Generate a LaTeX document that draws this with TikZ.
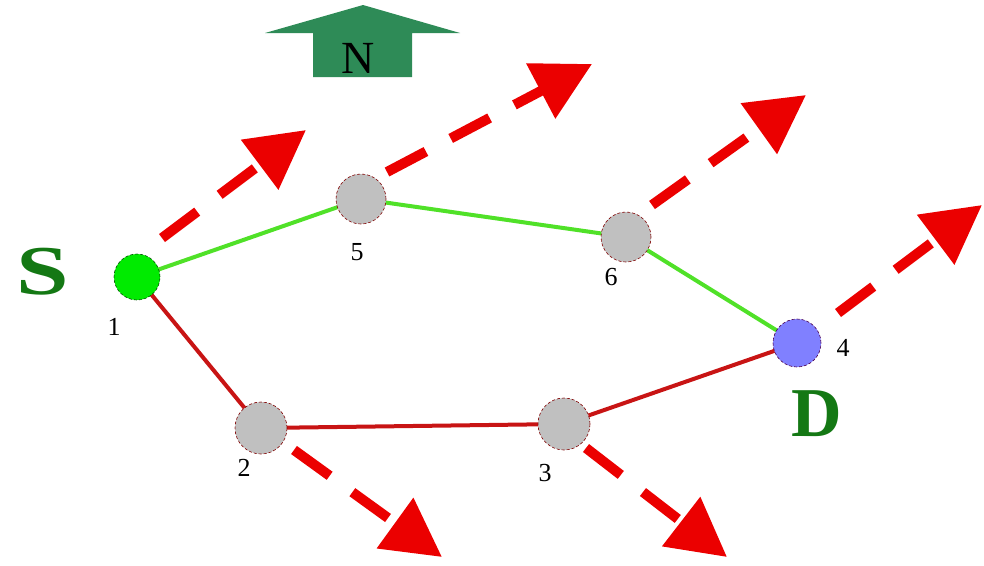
\documentclass[tikz,border=0pt]{standalone}
\usepackage{fontspec}
\setmainfont{Liberation Serif}
\usetikzlibrary{arrows.meta}
\definecolor{northgreen}{RGB}{46,139,87}
\definecolor{lettergreen}{RGB}{20,120,20}
\definecolor{pathgreen}{RGB}{80,225,40}
\definecolor{pathred}{RGB}{200,20,20}
\definecolor{wind}{RGB}{235,0,0}
\definecolor{nodegray}{RGB}{192,192,192}
\definecolor{srcgreen}{RGB}{0,235,0}
\definecolor{dstblue}{RGB}{128,128,255}
\tikzset{
  relay/.style={circle, draw=red!50!black, densely dashed, line width=0.6pt, fill=nodegray, minimum size=50pt, inner sep=0pt},
  srcnode/.style={relay, draw=green!30!black, fill=srcgreen, minimum size=46pt},
  dstnode/.style={relay, draw=violet!60!black, fill=dstblue, minimum size=48pt},
  lbl/.style={font=\fontsize{26}{26}\selectfont, inner sep=0pt},
  gpath/.style={draw=pathgreen, line width=4pt},
  rpath/.style={draw=pathred, line width=4pt},
  windarrow/.style={draw=wind, line width=10pt, dash pattern=on 44pt off 28pt, -{Triangle[length=58pt,width=60pt]}},
  bigletter/.style={text=lettergreen, font=\bfseries\fontsize{70}{70}\selectfont, inner sep=0pt}
}
\begin{document}
\begin{tikzpicture}[x=1pt,y=-1pt]
\useasboundingbox (0,0) rectangle (984,565);
% North arrow
\fill[northgreen] (265,33) -- (363,5) -- (460,33) -- (412,33) -- (412,77) -- (313,77) -- (313,33) -- cycle;
\node[font=\fontsize{46}{46}\selectfont, inner sep=0pt] (north) at (358,58) {N};
% wind arrows coordinates
\coordinate (w1s) at (162,238); \coordinate (w1e) at (306,130);
\coordinate (w5s) at (387,172); \coordinate (w5e) at (592,64);
\coordinate (w6s) at (652,205); \coordinate (w6e) at (806,95);
\coordinate (w4s) at (838,313); \coordinate (w4e) at (982,205);
\coordinate (w2s) at (294,450); \coordinate (w2e) at (442,557);
\coordinate (w3s) at (586,448); \coordinate (w3e) at (727,557);
\foreach \n in {1,5,6,4,2,3}{\draw[windarrow] (w\n s) -- (w\n e);}
% node positions
\coordinate (p1) at (137,277);
\coordinate (p5) at (361,199);
\coordinate (p6) at (626,237);
\coordinate (p4) at (797,343);
\coordinate (p2) at (261,428);
\coordinate (p3) at (564,424);
% paths
\draw[gpath] (p1) -- (p5) -- (p6) -- (p4);
\draw[rpath] (p1) -- (p2) -- (p3) -- (p4);
% nodes
\node[srcnode] (n1) at (p1) {};
\node[relay] (n5) at (p5) {};
\node[relay] (n6) at (p6) {};
\node[dstnode] (n4) at (p4) {};
\node[relay, minimum size=52pt] (n2) at (p2) {};
\node[relay, minimum size=52pt] (n3) at (p3) {};
% labels
\node[lbl] (l1) at (114,327) {1};
\node[lbl] (l5) at (357,252) {5};
\node[lbl] (l6) at (611,277) {6};
\node[lbl] (l4) at (843,348) {4};
\node[lbl] (l2) at (244,468) {2};
\node[lbl] (l3) at (545,473) {3};
\node[bigletter, xscale=1.35] (S) at (43,272) {S};
\node[bigletter] (D) at (817,414) {D};
\end{tikzpicture}
\end{document}
